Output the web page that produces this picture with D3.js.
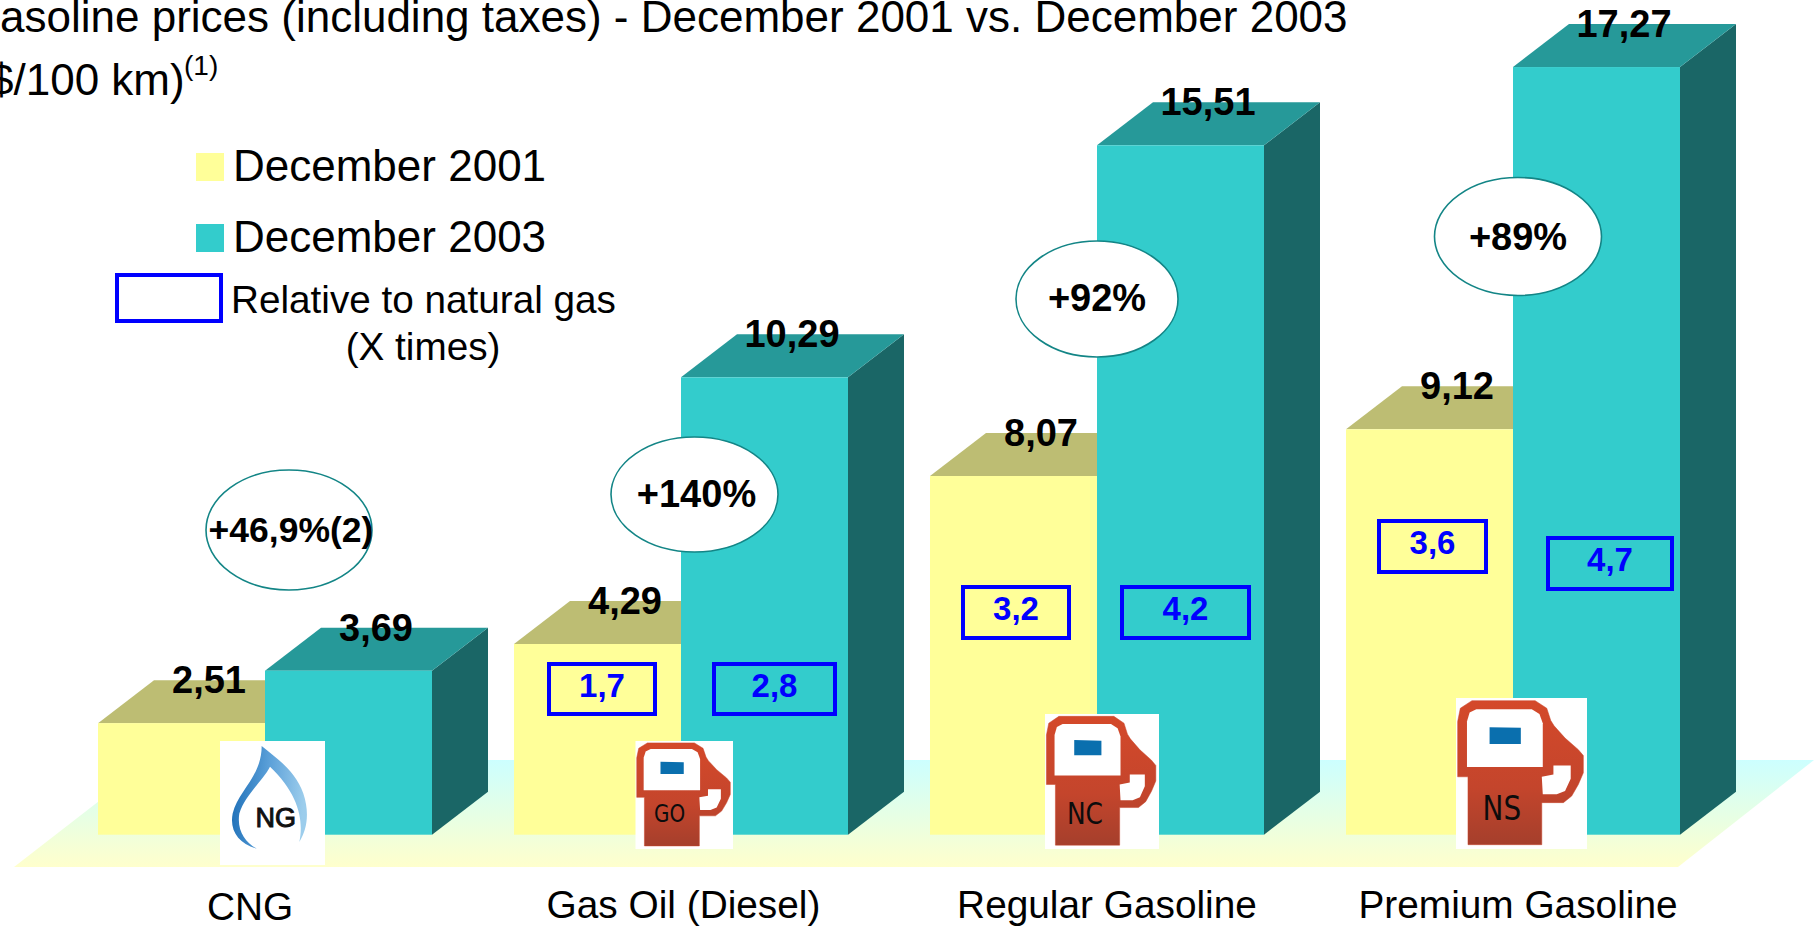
<!DOCTYPE html>
<html>
<head>
<meta charset="utf-8">
<script src="https://cdn.jsdelivr.net/npm/d3@7/dist/d3.min.js"></script>
<style>
html,body{margin:0;padding:0;background:#fff;overflow:hidden}
svg{display:block}
text{font-family:"Liberation Sans",Arial,sans-serif}
</style>
</head>
<body>
<svg id="chart" width="1814" height="926"></svg>
<script>
// ---- data ----
const categories = ["CNG", "Gas Oil (Diesel)", "Regular Gasoline", "Premium Gasoline"];
const seriesNames = ["December 2001", "December 2003"];
const values2001 = [2.51, 4.29, 8.07, 9.12];
const values2003 = [3.69, 10.29, 15.51, 17.27];
const ratios2001 = [null, "1,7", "3,2", "3,6"];
const ratios2003 = [null, "2,8", "4,2", "4,7"];
const changeLabels = ["+46,9%(2)", "+140%", "+92%", "+89%"];
const titleLine1 = "asoline prices (including taxes) - December 2001 vs. December 2003";
const titleLine2 = "$/100 km)";
const titleNote = "(1)";
const legendRelative = ["Relative to natural gas", "(X times)"];
const iconCodes = ["NG", "GO", "NC", "NS"];

// ---- layout (separate from the data) ----
const W = 1814, H = 926, baseY = 834.7, depthX = 56, depthY = 43;
const colors = {
  front: ["#ffff99", "#33cccc"],
  top: ["#bdbd73", "#269999"],
  side: ["#8f8f50", "#1a6666"]
};
const labelCenterX = [250, 683.5, 1107, 1518];
const labelBaseY = [920, 918, 918, 918];
const ellipseBox = [[289, 530, 83, 60], [694.5, 494.5, 83.5, 57.5], [1097, 299, 81, 58], [1518, 236.5, 83.5, 59]];
const boxes2001 = [null, [549, 664, 106, 50], [963, 587, 106, 51], [1379, 521, 107, 51]];
const boxes2003 = [null, [714, 664, 121, 50], [1122, 587, 127, 51], [1548, 538, 124, 51]];
const iconBoxes = [[220, 741, 105, 124], [635.5, 741, 97.5, 108], [1045, 714, 114, 135], [1456, 698, 131, 151]];
const iconTextShift = [0, -7, 0, -1];

// ---- scales ----
const x0 = d3.scalePoint().domain(categories).range([98, 98 + 3 * 416]);
const x1 = d3.scaleBand().domain(seriesNames).range([0, 334]);
const y = d3.scaleLinear().domain([0, 18]).range([baseY, baseY - 44.45 * 18]);

const svg = d3.select("#chart");
const defs = svg.append("defs");
const lin = (id, x2, y2, stops) => {
  const g = defs.append("linearGradient").attr("id", id).attr("x1", 0).attr("y1", 0).attr("x2", x2).attr("y2", y2);
  stops.forEach(s => g.append("stop").attr("offset", s[0]).attr("stop-color", s[1]));
};
lin("floorGrad", 0, 1, [[0, "#ccffff"], [1, "#ffffcc"]]);
lin("pumpGrad", 0, 1, [[0, "#d4492a"], [0.6, "#c4452c"], [1, "#a53f2c"]]);
lin("flameGrad", 1, 0.1, [[0, "#1a6cb5"], [0.5, "#5a9fd8"], [1, "#9ccdec"]]);

// floor
const line = d3.line();
svg.append("path")
  .attr("d", line([[152, 760], [W, 760], [1678, 867], [14, 867]]) + "Z")
  .attr("fill", "url(#floorGrad)");

// 3D bars
const rows = categories.flatMap((c, i) => [
  { c, s: 0, name: seriesNames[0], v: values2001[i] },
  { c, s: 1, name: seriesNames[1], v: values2003[i] }
]);
const barW = x1.bandwidth();
rows.sort((a, b) => a.s - b.s);
const bars = svg.append("g").selectAll("g").data(rows).join("g");
bars.append("path").attr("fill", d => colors.side[d.s]).attr("d", d => {
  const l = x0(d.c) + x1(d.name), r = l + barW;
  return line([[r, y(d.v)], [r + depthX, y(d.v) - depthY], [r + depthX, y(0) - depthY], [r, y(0)]]) + "Z";
});
bars.append("path").attr("fill", d => colors.top[d.s]).attr("d", d => {
  const l = x0(d.c) + x1(d.name), r = l + barW;
  return line([[l, y(d.v)], [l + depthX, y(d.v) - depthY], [r + depthX, y(d.v) - depthY], [r, y(d.v)]]) + "Z";
});
bars.append("rect")
  .attr("x", d => x0(d.c) + x1(d.name))
  .attr("y", d => y(d.v))
  .attr("width", barW)
  .attr("height", d => y(0) - y(d.v))
  .attr("fill", d => colors.front[d.s]);

// icons
const pumpOuter = [[53,467],[53,262],[22,262],[22,95],[30,55],[65,32],[255,32],[290,55],[302,92],[312,108],[345,145],[385,180],[400,198],[400,250],[385,285],[365,320],[340,340],[275,340],[275,467]];
const pumpWindow = [[50,232],[50,95],[58,68],[78,58],[245,58],[268,72],[278,100],[278,232]];
const pumpHole = [[310,228],[362,228],[362,268],[345,305],[320,315],[278,315],[275,262],[310,255]];
const pumpScreen = [[118,112],[212,114],[212,163],[118,163]];
const flame = "M155,48 C200,85 255,120 280,190 C300,250 290,300 268,335 C282,270 265,190 180,110 C160,150 105,195 88,250 C80,300 105,335 140,355 C85,340 58,300 68,250 C85,180 155,140 155,48 Z";

const icons = svg.append("g").selectAll("g").data(iconCodes).join("g");
icons.each(function (code, i) {
  const [bx, by, bw, bh] = iconBoxes[i];
  const g = d3.select(this);
  g.append("rect").attr("x", bx).attr("y", by).attr("width", bw).attr("height", bh).attr("fill", "#fff");
  if (code === "NG") {
    const sx = bw / 315, sy = bh / 371;
    const t = g.append("g").attr("transform", `translate(${bx - 30 * sx},${by - 33 * sy}) scale(${sx},${sy})`);
    t.append("path").attr("d", flame).attr("fill", "url(#flameGrad)");
    g.append("text").attr("x", bx + 167 * sx).attr("y", by + 257 * sy).attr("text-anchor", "middle")
      .attr("font-size", 27).attr("fill", "#111").attr("stroke", "#111").attr("stroke-width", 1).text(code);
    return;
  }
  const px = d3.scaleLinear().domain([17, 411]).range([bx, bx + bw]);
  const py = d3.scaleLinear().domain([24, 480]).range([by, by + bh]);
  const mapped = pts => line(pts.map(p => [px(p[0]), py(p[1])])) + "Z";
  g.append("path").attr("d", mapped(pumpOuter)).attr("fill", "url(#pumpGrad)").attr("stroke", "#c9452b").attr("stroke-width", 0.5).attr("stroke-linejoin", "round");
  g.append("path").attr("d", mapped(pumpWindow)).attr("fill", "#fff");
  g.append("path").attr("d", mapped(pumpHole)).attr("fill", "#fff");
  g.append("path").attr("d", mapped(pumpScreen)).attr("fill", "#0a6fae");
  const fs = 34 * bh / 151;
  g.append("text")
    .attr("transform", `translate(${px(155)},${py(395) + iconTextShift[i]}) scale(0.82,1)`)
    .attr("text-anchor", "middle")
    .attr("font-size", fs)
    .attr("style", 'font-family:"DejaVu Sans"')
    .attr("fill", "#0c0c0c").text(code);
});

// ratio boxes
function ratioBoxes(labels, layout) {
  labels.forEach((t, i) => {
    if (t === null) return;
    const [bx, by, bw, bh] = layout[i];
    svg.append("rect").attr("x", bx).attr("y", by).attr("width", bw).attr("height", bh)
      .attr("fill", "none").attr("stroke", "#0000ff").attr("stroke-width", 4);
    svg.append("text").attr("x", bx + bw / 2).attr("y", by + 33)
      .attr("text-anchor", "middle").attr("font-size", 33).attr("font-weight", 700)
      .attr("fill", "#0000ff").text(t);
  });
}
ratioBoxes(ratios2001, boxes2001);
ratioBoxes(ratios2003, boxes2003);

// change ellipses
svg.append("g").selectAll("ellipse").data(changeLabels).join("ellipse")
  .attr("cx", (d, i) => ellipseBox[i][0]).attr("cy", (d, i) => ellipseBox[i][1])
  .attr("rx", (d, i) => ellipseBox[i][2]).attr("ry", (d, i) => ellipseBox[i][3])
  .attr("fill", "#fff").attr("stroke", "#138586").attr("stroke-width", 1.6);
svg.append("g").selectAll("text").data(changeLabels).join("text")
  .attr("x", (d, i) => ellipseBox[i][0] + (i >= 2 ? 0 : 2))
  .attr("y", (d, i) => ellipseBox[i][1] + (i === 3 ? 13 : 12))
  .attr("text-anchor", "middle")
  .attr("font-size", (d, i) => i === 0 ? 35.5 : 38)
  .attr("font-weight", 700).attr("fill", "#000").text(d => d);

// value labels
const fmt = v => v.toFixed(2).replace(".", ",");
svg.append("g").selectAll("text").data(rows).join("text")
  .attr("x", d => x0(d.c) + x1(d.name) + 111)
  .attr("y", d => y(d.v) - 30)
  .attr("text-anchor", "middle")
  .attr("font-size", 38).attr("font-weight", 700).attr("fill", "#000")
  .text(d => fmt(d.v));

// category labels
svg.append("g").selectAll("text").data(categories).join("text")
  .attr("x", (d, i) => labelCenterX[i]).attr("y", (d, i) => labelBaseY[i])
  .attr("text-anchor", "middle").attr("font-size", 38.8).attr("fill", "#000").text(d => d);

// title
svg.append("text").attr("x", 0).attr("y", 32).attr("font-size", 44).attr("fill", "#000").text(titleLine1);
svg.append("text").attr("x", -11).attr("y", 95).attr("font-size", 44).attr("fill", "#000").text(titleLine2);
svg.append("text").attr("x", 184).attr("y", 75).attr("font-size", 28).attr("fill", "#000").text(titleNote);

// legend
const legendY = [153, 224];
seriesNames.forEach((n, i) => {
  svg.append("rect").attr("x", 196).attr("y", legendY[i]).attr("width", 28).attr("height", 28).attr("fill", colors.front[i]);
  svg.append("text").attr("x", 233).attr("y", legendY[i] + 28).attr("font-size", 44).attr("fill", "#000").text(n);
});
svg.append("rect").attr("x", 117).attr("y", 275).attr("width", 104).attr("height", 46)
  .attr("fill", "none").attr("stroke", "#0000ff").attr("stroke-width", 4);
svg.append("text").attr("x", 231).attr("y", 313).attr("font-size", 38.7).attr("fill", "#000").text(legendRelative[0]);
svg.append("text").attr("x", 423).attr("y", 360).attr("text-anchor", "middle").attr("font-size", 38.7).attr("fill", "#000").text(legendRelative[1]);
</script>
</body>
</html>
